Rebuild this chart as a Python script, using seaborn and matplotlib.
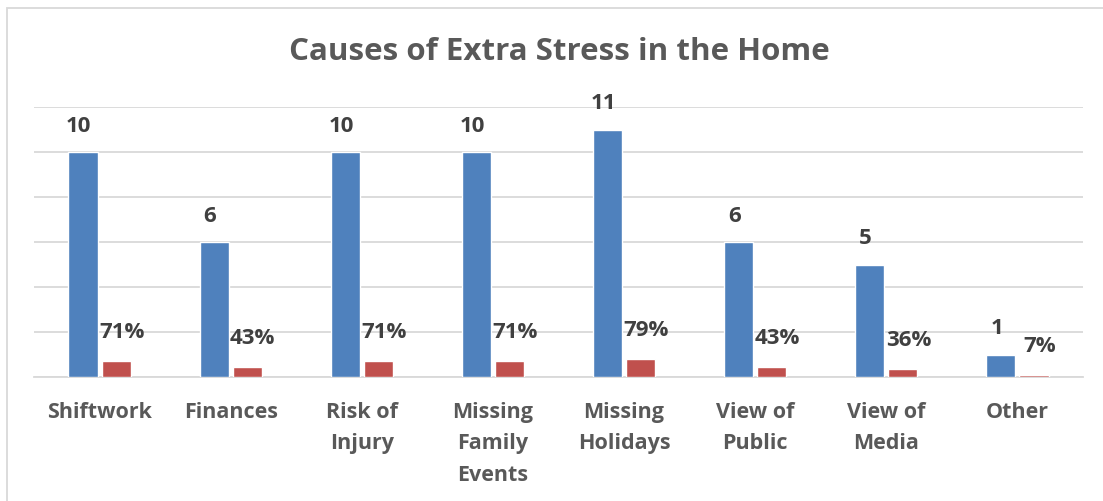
import pandas as pd
import matplotlib
matplotlib.use('Agg')
import matplotlib.pyplot as plt
import seaborn as sns

#Datos del gráfico
categories = ['Shiftwork', 'Finances', 'Risk of\nInjury', 'Missing\nFamily\nEvents',
              'Missing\nHolidays', 'View of\nPublic', 'View of\nMedia', 'Other']
counts = [10, 6, 10, 10, 11, 6, 5, 1]
percents = [0.71, 0.43, 0.71, 0.71, 0.79, 0.43, 0.36, 0.07]
series = ['Count', 'Percent']

blue = '#4F81BD'
red = '#C0504D'
text_gray = '#595959'
grid_gray = '#D9D9D9'

df = pd.DataFrame({
    'category': categories * 2,
    'value': counts + percents,
    'series': [series[0]] * len(categories) + [series[1]] * len(categories),
})

sns.set_style('white')
plt.rcParams['font.family'] = ['Open Sans', 'DejaVu Sans']

fig = plt.figure(figsize=(11.03, 5.01), dpi=100)
ax = fig.add_axes([34 / 1103, 124 / 501, 1049 / 1103, 270 / 501])

sns.barplot(data=df, x='category', y='value', hue='series', order=categories,
            hue_order=series, palette=[blue, red], saturation=1, width=0.505, gap=0.12,
            legend=False, ax=ax, zorder=3)

ax.set_ylim(0, 12)
ax.set_yticks(range(0, 13, 2))
ax.set_yticklabels([])
ax.tick_params(axis='y', length=0)
ax.tick_params(axis='x', length=0, pad=18)
ax.grid(axis='y', color=grid_gray, linewidth=1.3, zorder=0)
for s in ['left', 'right', 'top']:
    ax.spines[s].set_visible(False)
ax.spines['bottom'].set_color(grid_gray)
ax.spines['bottom'].set_linewidth(1.3)
ax.set_xlabel('')
ax.set_ylabel('')

for lbl in ax.get_xticklabels():
    lbl.set_fontsize(15.5)
    lbl.set_fontweight('bold')
    lbl.set_color(text_gray)
    lbl.set_linespacing(1.65)
    lbl.set_verticalalignment('top')

#Etiquetas de datos
count_labels = [str(v) for v in counts]
pct_labels = [f'{int(round(v * 100))}%' for v in percents]
for bar, txt in zip(ax.containers[0], count_labels):
    ax.annotate(txt, (bar.get_x() + bar.get_width() / 2, bar.get_height()),
                xytext=(-3, 11), textcoords='offset points', ha='center', va='bottom',
                fontsize=16, fontweight='bold', color='#404040')
for bar, txt in zip(ax.containers[1], pct_labels):
    ax.annotate(txt, (bar.get_x() + bar.get_width() / 2, bar.get_height()),
                xytext=(4, 13), textcoords='offset points', ha='center', va='bottom',
                fontsize=16, fontweight='bold', color='#404040')

fig.text(559 / 1103, 1 - 52 / 501, 'Causes of Extra Stress in the Home',
         ha='center', va='center', fontsize=22.5, fontweight='bold', color=text_gray)

#Borde del gráfico
border = plt.Rectangle((7 / 1103, -0.05), 1.2, 1 - 8 / 501 + 0.05, transform=fig.transFigure,
                       fill=False, edgecolor=grid_gray, linewidth=1.3)
fig.patches.append(border)

fig.savefig('out.png', dpi=100)
